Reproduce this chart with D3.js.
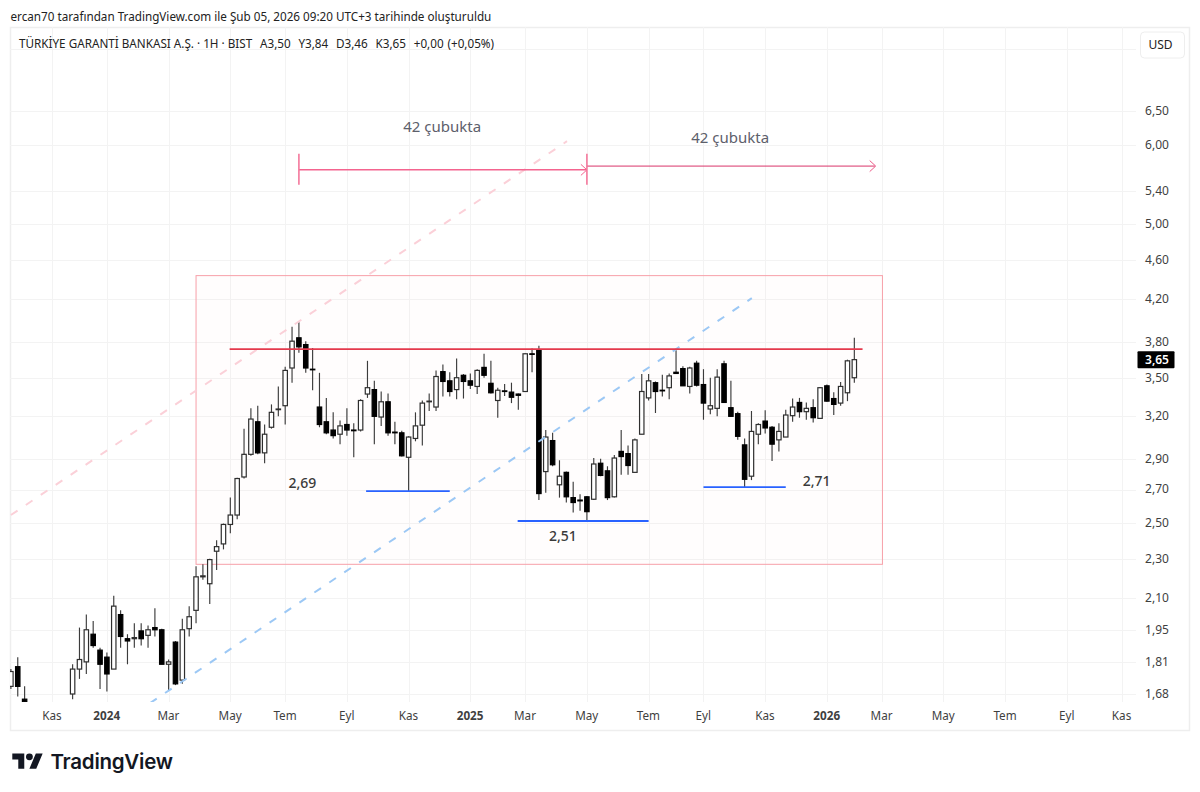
<!DOCTYPE html>
<html>
<head>
<meta charset="utf-8">
<title>GARAN</title>
<script src="https://cdn.jsdelivr.net/npm/d3@7"></script>
<style>
  html, body { margin: 0; padding: 0; background: #fff; }
  svg { display: block; }
  text { font-family: "Noto Sans", sans-serif; }
</style>
</head>
<body>
<svg id="chart" width="1200" height="792"></svg>
<script>
(function () {
  'use strict';

  // weekly bars, null = no bar drawn in the picture
  var opens = [1.71, 1.79, 1.66, null, null, null, null, null, null,
    1.68, 1.78, 1.81, 1.93, 1.86, 1.83, 1.78, 2.02, 1.91, 1.91, 1.945, 1.925, 1.96, 1.95, 1.80, 1.895, 1.735, 1.955, 2.04, 2.205, 2.17,
    2.34, 2.38, 2.49, 2.545, 2.78, 2.93, 3.16, 2.94, 3.12, 3.25, 3.28, 3.58, 3.84, 3.78, 3.57, 3.27, 3.16, 3.10, 3.07, 3.14,
    3.10, 3.10, 3.37, 3.405, 3.195, 3.31, 3.085, 3.08, 2.91, 3.04, 3.135, 3.31, 3.27, 3.55, 3.475, 3.405, 3.52, 3.475, 3.43, 3.585,
    3.455, 3.32, 3.395, 3.385, 3.37, 3.39, 3.70, 3.73, 2.815, 3.025, 2.73, 2.81, 2.65, 2.635, 2.655, 2.64, 2.87, 2.82, 2.655, 2.95,
    2.935, 2.81, 3.07, 3.34, 3.46, 3.40, 3.42, 3.545, 3.575, 3.43, 3.62, 3.445, 3.255, 3.26, 3.615, 3.265, 3.22, 2.995, 2.785, 3.07,
    3.165, 3.12, 3.03, 3.05, 3.205, 3.305, 3.235, 3.265, 3.185, 3.435, 3.335, 3.30, 3.38, 3.50];
  var highs = [1.78, 1.83, 1.71, null, null, null, null, null, null,
    1.80, 1.96, 2.02, 1.99, 1.87, 1.85, 2.11, 2.04, 1.93, 1.98, 1.98, 1.97, 2.05, 1.955, 1.82, 1.90, 2.00, 2.06, 2.26, 2.27, 2.30,
    2.40, 2.495, 2.65, 2.775, 3.11, 3.26, 3.28, 3.14, 3.29, 3.43, 3.59, 3.94, 3.98, 3.81, 3.75, 3.54, 3.34, 3.23, 3.17, 3.26,
    3.15, 3.33, 3.64, 3.475, 3.39, 3.375, 3.16, 3.095, 3.055, 3.23, 3.32, 3.375, 3.56, 3.61, 3.545, 3.66, 3.53, 3.535, 3.57, 3.70,
    3.64, 3.42, 3.45, 3.46, 3.375, 3.705, 3.745, 3.77, 3.10, 3.08, 2.89, 2.815, 2.75, 2.67, 2.66, 2.905, 2.90, 2.85, 2.925, 3.10,
    2.99, 3.04, 3.53, 3.53, 3.47, 3.525, 3.535, 3.73, 3.595, 3.59, 3.64, 3.57, 3.50, 3.57, 3.64, 3.475, 3.235, 3.04, 3.24, 3.15,
    3.245, 3.13, 3.15, 3.25, 3.335, 3.34, 3.305, 3.33, 3.425, 3.445, 3.385, 3.465, 3.65, 3.84];
  var lows = [1.70, 1.67, 1.65, null, null, null, null, null, null,
    1.66, 1.74, 1.76, 1.87, 1.70, 1.69, 1.78, 1.87, 1.80, 1.87, 1.88, 1.87, 1.92, 1.80, 1.695, 1.715, 1.72, 1.92, 1.98, 2.19, 2.07,
    2.24, 2.35, 2.44, 2.52, 2.77, 2.92, 2.93, 2.87, 3.11, 3.20, 3.14, 3.46, 3.71, 3.54, 3.40, 3.12, 3.07, 3.04, 3.00, 3.06,
    2.91, 3.09, 3.34, 3.00, 3.13, 3.06, 3.00, 2.915, 2.69, 3.02, 2.99, 3.24, 3.24, 3.35, 3.35, 3.33, 3.335, 3.41, 3.37, 3.50,
    3.375, 3.19, 3.355, 3.30, 3.25, 3.39, 3.545, 2.635, 2.68, 2.85, 2.65, 2.62, 2.56, 2.57, 2.51, 2.635, 2.785, 2.635, 2.65, 2.795,
    2.795, 2.81, 3.07, 3.32, 3.225, 3.35, 3.33, 3.53, 3.435, 3.375, 3.43, 3.175, 3.215, 3.20, 3.305, 3.195, 3.03, 2.715, 2.76, 3.00,
    3.075, 2.885, 2.95, 3.05, 3.16, 3.19, 3.175, 3.155, 3.185, 3.31, 3.21, 3.28, 3.315, 3.46];
  var closes = [1.77, 1.71, 1.65, null, null, null, null, null, null,
    1.78, 1.82, 1.95, 1.88, 1.80, 1.76, 2.06, 1.92, 1.90, 1.915, 1.91, 1.95, 1.95, 1.80, 1.81, 1.72, 1.95, 2.01, 2.205, 2.21, 2.295,
    2.365, 2.49, 2.545, 2.77, 2.93, 3.18, 2.94, 3.07, 3.23, 3.255, 3.56, 3.81, 3.76, 3.58, 3.565, 3.14, 3.08, 3.06, 3.13, 3.10,
    3.095, 3.32, 3.42, 3.20, 3.31, 3.08, 3.08, 2.92, 3.05, 3.13, 3.30, 3.315, 3.51, 3.47, 3.39, 3.50, 3.47, 3.44, 3.56, 3.52,
    3.38, 3.40, 3.39, 3.345, 3.36, 3.70, 3.695, 2.675, 3.05, 2.86, 2.785, 2.655, 2.62, 2.63, 2.565, 2.865, 2.79, 2.65, 2.905, 2.915,
    2.855, 3.03, 3.39, 3.475, 3.39, 3.395, 3.515, 3.535, 3.435, 3.58, 3.44, 3.30, 3.28, 3.505, 3.305, 3.20, 3.055, 2.765, 3.09, 3.14,
    3.115, 3.00, 3.09, 3.21, 3.27, 3.235, 3.26, 3.19, 3.42, 3.315, 3.29, 3.43, 3.64, 3.65];

  var priceTicks = [6.50, 6.00, 5.40, 5.00, 4.60, 4.20, 3.80, 3.50, 3.20, 2.90, 2.70, 2.50, 2.30, 2.10, 1.95, 1.81, 1.68];
  var hiddenPriceTicks = [7.50]; // sits behind the USD button

  var timeTickBars = [6, 14, 23, 32, 40, 49, 58, 67, 75, 84, 93, 101, 110, 119, 127, 136, 145, 154, 162];
  var timeTickLabels = ['Kas', '2024', 'Mar', 'May', 'Tem', 'Eyl', 'Kas', '2025', 'Mar', 'May', 'Tem', 'Eyl', 'Kas', '2026', 'Mar', 'May', 'Tem', 'Eyl', 'Kas'];
  var yearLabels = ['2024', '2025', '2026'];

  var lastPrice = 3.65;
  var boxBars = [27, 127.1];
  var boxPrices = [4.436, 2.27];
  var resistance = { bars: [31.9, 124.2], price: 3.74 };
  var pinkTrend = { bars: [0, 81.1], prices: [2.545, 6.06] };
  var blueTrend = { bars: [20.3, 108.05], prices: [1.645, 4.21] };
  var supportBars = [[51.8, 64], [73.9, 93], [101, 113]];
  var supportPrices = [2.69, 2.51, 2.715];
  var supportLabels = ['2,69', '2,51', '2,71'];
  var supportLabelBars = [42.5, 80.5, 117.5];
  var supportLabelPrices = [2.74, 2.425, 2.752];
  var rangeBars = [[42, 84], [84, 126]];
  var rangePrices = [5.67, 5.72];
  var rangeLabel = '42 çubukta';
  var rangeLabelBars = [62.9, 104.9];
  var rangeLabelPrices = [6.265, 6.11];

  var x = d3.scaleLinear().domain([0, 126]).range([10.9, 874.9]);
  var y = d3.scaleLog().domain([1.68, 6.5]).range([694, 111]);

  var plot = { left: 10, right: 1136, top: 27, bottom: 702 };
  var svg = d3.select('#chart');

  function commaPrice(v) {
    return d3.format('.2f')(v).replace('.', ',');
  }

  svg.append('defs').append('clipPath').attr('id', 'plotClip')
    .append('rect')
    .attr('x', plot.left).attr('y', plot.top)
    .attr('width', plot.right - plot.left).attr('height', plot.bottom - plot.top);

  // frame and grid
  svg.append('rect')
    .attr('x', 10.5).attr('y', 27.5).attr('width', 1179).attr('height', 703)
    .attr('fill', 'none').attr('stroke', '#eeeeee').attr('stroke-width', 1.5);

  var grid = svg.append('g').attr('stroke', '#f3f3f3').attr('stroke-width', 1);
  grid.selectAll('.h').data(priceTicks.concat(hiddenPriceTicks)).enter().append('line')
    .attr('x1', plot.left).attr('x2', plot.right)
    .attr('y1', function (d) { return Math.round(y(d)) + 0.5; })
    .attr('y2', function (d) { return Math.round(y(d)) + 0.5; });
  grid.selectAll('.v').data(timeTickBars).enter().append('line')
    .attr('y1', plot.top).attr('y2', plot.bottom)
    .attr('x1', function (d) { return Math.round(x(d)) + 0.5; })
    .attr('x2', function (d) { return Math.round(x(d)) + 0.5; });

  // box goes under the candles
  var drawings = svg.append('g').attr('clip-path', 'url(#plotClip)');
  drawings.append('rect')
    .attr('x', x(boxBars[0])).attr('y', y(boxPrices[0]))
    .attr('width', x(boxBars[1]) - x(boxBars[0]))
    .attr('height', y(boxPrices[1]) - y(boxPrices[0]))
    .attr('fill', '#f23645').attr('fill-opacity', 0.012)
    .attr('stroke', '#f7a0a9').attr('stroke-width', 1);

  // candles
  var bars = opens.map(function (o, i) {
    return { i: i, o: o, h: highs[i], l: lows[i], c: closes[i] };
  }).filter(function (d) { return d.o !== null; });

  var candles = svg.append('g').attr('clip-path', 'url(#plotClip)')
    .selectAll('g').data(bars).enter().append('g');

  candles.append('line')
    .attr('x1', function (d) { return x(d.i); })
    .attr('x2', function (d) { return x(d.i); })
    .attr('y1', function (d) { return y(d.h); })
    .attr('y2', function (d) { return y(d.l); })
    .attr('stroke', '#3c3c3c').attr('stroke-width', 1.15);

  candles.append('rect')
    .attr('x', function (d) { return x(d.i) - 2.2; })
    .attr('width', 4.4)
    .attr('y', function (d) { return y(Math.max(d.o, d.c)); })
    .attr('height', function (d) { return Math.max(0.4, Math.abs(y(d.o) - y(d.c))); })
    .attr('fill', function (d) { return d.c >= d.o ? '#ffffff' : '#000000'; })
    .attr('stroke', function (d) { return d.c >= d.o ? '#2e2e2e' : '#000000'; })
    .attr('stroke-width', 1.2);

  // trend lines
  function trendLine(t, color) {
    drawings2.append('line')
      .attr('x1', x(t.bars[0])).attr('y1', y(t.prices[0]))
      .attr('x2', x(t.bars[1])).attr('y2', y(t.prices[1]))
      .attr('stroke', color).attr('stroke-width', 2)
      .attr('stroke-dasharray', '8 10');
  }

  var drawings2 = svg.append('g').attr('clip-path', 'url(#plotClip)');
  trendLine(pinkTrend, '#fbd0d8');
  trendLine(blueTrend, '#9cc8f5');

  drawings2.append('line')
    .attr('x1', x(resistance.bars[0])).attr('x2', x(resistance.bars[1]))
    .attr('y1', y(resistance.price)).attr('y2', y(resistance.price))
    .attr('stroke', '#e4394c').attr('stroke-width', 1.9);

  drawings2.selectAll('.support').data(supportPrices).enter().append('line')
    .attr('x1', function (d, i) { return x(supportBars[i][0]); })
    .attr('x2', function (d, i) { return x(supportBars[i][1]); })
    .attr('y1', function (d) { return y(d); })
    .attr('y2', function (d) { return y(d); })
    .attr('stroke', '#2962ff').attr('stroke-width', 1.8);

  drawings2.selectAll('.supportLabel').data(supportLabels).enter().append('text')
    .attr('x', function (d, i) { return x(supportLabelBars[i]); })
    .attr('y', function (d, i) { return y(supportLabelPrices[i]); })
    .attr('text-anchor', 'middle').attr('font-size', 14).attr('font-weight', 500)
    .attr('fill', '#3a3a3a').attr('dy', '0.35em')
    .text(function (d) { return d; });

  // bar range tools
  function chevron(g, tipX, tipY, color, w) {
    g.append('path')
      .attr('d', 'M' + (tipX - 6) + ',' + (tipY - 5.5) + 'L' + tipX + ',' + tipY + 'L' + (tipX - 6) + ',' + (tipY + 5.5))
      .attr('fill', 'none').attr('stroke', color).attr('stroke-width', w);
  }

  var range = svg.append('g');
  range.append('line')
    .attr('x1', x(rangeBars[1][0])).attr('x2', x(rangeBars[1][1]))
    .attr('y1', y(rangePrices[1])).attr('y2', y(rangePrices[1]))
    .attr('stroke', '#d9356a').attr('stroke-width', 1);
  chevron(range, x(rangeBars[1][1]) + 0.8, y(rangePrices[1]), '#ee5a88', 1);

  range.append('line')
    .attr('x1', x(rangeBars[0][0])).attr('x2', x(rangeBars[0][1]))
    .attr('y1', y(rangePrices[0])).attr('y2', y(rangePrices[0]))
    .attr('stroke', '#f4648f').attr('stroke-width', 1.5);
  chevron(range, x(rangeBars[0][1]), y(rangePrices[0]), '#f4648f', 1);
  rangeBars[0].forEach(function (b) {
    range.append('line')
      .attr('x1', x(b)).attr('x2', x(b))
      .attr('y1', y(rangePrices[0]) - 16).attr('y2', y(rangePrices[0]) + 15)
      .attr('stroke', '#f4789c').attr('stroke-width', 1.6);
  });

  range.selectAll('text').data(rangeLabelBars).enter().append('text')
    .attr('x', function (d) { return x(d); })
    .attr('y', function (d, i) { return y(rangeLabelPrices[i]); })
    .attr('text-anchor', 'middle').attr('font-size', 15)
    .attr('fill', '#5d606b').attr('dy', '0.35em')
    .text(rangeLabel);

  // axes, only the labels are kept
  var priceAxis = d3.axisRight(y).tickValues(priceTicks).tickFormat(commaPrice).tickSize(0);
  var priceG = svg.append('g').attr('transform', 'translate(' + plot.right + ',0)').call(priceAxis);
  priceG.select('.domain').remove();
  priceG.selectAll('text')
    .attr('x', 21).attr('dy', '0.28em').attr('text-anchor', 'middle')
    .attr('font-size', 12).attr('fill', '#3f3f3f')
    .style('font-family', '"Noto Sans", sans-serif');

  var timeAxis = d3.axisBottom(x).tickValues(timeTickBars)
    .tickFormat(function (d, i) { return timeTickLabels[i]; }).tickSize(0);
  var timeG = svg.append('g').attr('transform', 'translate(-0.7,712)').call(timeAxis);
  timeG.select('.domain').remove();
  timeG.selectAll('text')
    .attr('y', 0).attr('dy', '0.71em')
    .attr('font-size', 11.7).attr('fill', '#3f3f3f')
    .attr('font-weight', function (d, i) { return yearLabels.indexOf(timeTickLabels[i]) >= 0 ? 700 : 400; })
    .style('font-family', '"Noto Sans", sans-serif');

  // last price tag
  svg.append('rect')
    .attr('x', 1137.5).attr('y', y(lastPrice) - 8.5).attr('width', 37).attr('height', 17)
    .attr('rx', 1).attr('fill', '#000000');
  svg.append('text')
    .attr('x', 1157).attr('y', y(lastPrice)).attr('dy', '0.36em')
    .attr('text-anchor', 'middle').attr('font-size', 12).attr('font-weight', 600).attr('fill', '#ffffff')
    .text(commaPrice(lastPrice));

  // USD button
  svg.append('rect')
    .attr('x', 1140.5).attr('y', 32).attr('width', 44).attr('height', 26).attr('rx', 4)
    .attr('fill', '#ffffff').attr('stroke', '#eeeeee');
  svg.append('text')
    .attr('x', 1160.5).attr('y', 45).attr('dy', '0.36em').attr('text-anchor', 'middle')
    .attr('font-size', 12).attr('fill', '#222222').text('USD');

  // header
  svg.append('text')
    .attr('x', 10.5).attr('y', 20.5)
    .attr('font-size', 11.7).attr('fill', '#222222')
    .text('ercan70 tarafından TradingView.com ile Şub 05, 2026 09:20 UTC+3 tarihinde oluşturuldu');
  var title = svg.append('text')
    .attr('x', 19).attr('y', 48)
    .attr('font-size', 11.7).attr('fill', '#222222')
    .style('white-space', 'pre');
  title.append('tspan').text('TÜRKİYE GARANTİ BANKASI A.Ş. · 1H · BIST');
  title.append('tspan').attr('word-spacing', 0.85)
    .text('  A3,50  Y3,84  D3,46  K3,65  +0,00 (+0,05%)');

  // logo
  var logo = svg.append('g').attr('transform', 'translate(12.3,750) scale(0.855)').attr('fill', '#131722');
  logo.append('path').attr('d', 'M14 22H7V11H0V4h14v18zM28 22h-8l7.5-18h8L28 22z');
  logo.append('circle').attr('cx', 20).attr('cy', 8).attr('r', 4);
  svg.append('text')
    .attr('x', 50.5).attr('y', 768.5)
    .attr('font-size', 20.5).attr('font-weight', 600).attr('fill', '#131722')
    .attr('letter-spacing', -0.25)
    .style('font-family', 'Inter, sans-serif')
    .text('TradingView');
})();
</script>
</body>
</html>
